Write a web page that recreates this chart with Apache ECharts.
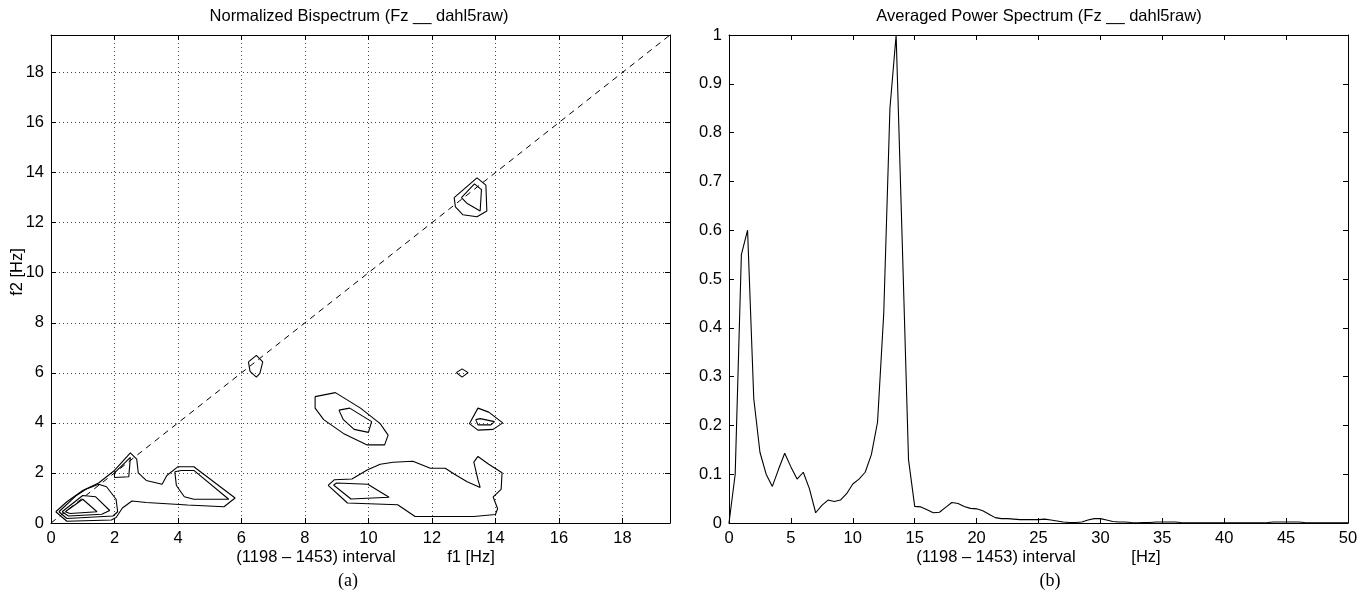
<!DOCTYPE html>
<html>
<head>
<meta charset="utf-8">
<script src="https://cdn.jsdelivr.net/npm/echarts@6/dist/echarts.min.js"></script>
<style>html,body{margin:0;padding:0;background:#fff;}#c{width:1366px;height:606px;}</style>
</head>
<body>
<div id="c"></div>
<script>
// ---------- Data: right panel (Averaged Power Spectrum) ----------
var freqStep = 0.5;
var power = [
  0.0, 0.10, 0.55, 0.60, 0.255, 0.145, 0.10, 0.075, 0.11, 0.143,
  0.115, 0.09, 0.104, 0.07, 0.021, 0.036, 0.047, 0.044, 0.047, 0.06,
  0.08, 0.09, 0.104, 0.14, 0.207, 0.43, 0.85, 1.0, 0.57, 0.13,
  0.034, 0.033, 0.027, 0.021, 0.022, 0.032, 0.042, 0.040, 0.034, 0.030,
  0.029, 0.025, 0.018, 0.011, 0.009, 0.009, 0.008, 0.007, 0.007, 0.007,
  0.007, 0.008, 0.006, 0.004, 0.002, 0.001, 0.001, 0.002, 0.006, 0.009,
  0.009, 0.006, 0.003, 0.002, 0.002, 0.001, 0.0005, 0.001, 0.001, 0.002,
  0.002, 0.002, 0.002, 0.001, 0.0005, 0.0005, 0.0005, 0.0005, 0.0005, 0.0005,
  0.0005, 0.0005, 0.0005, 0.0005, 0.0005, 0.0005, 0.0005, 0.001, 0.002, 0.002,
  0.002, 0.002, 0.002, 0.001, 0.0005, 0.0005, 0.0005, 0.0005, 0.0005, 0.0005,
  0.0005
];
var specXTicks = [0, 5, 10, 15, 20, 25, 30, 35, 40, 45, 50];
var specYTicks = [0, 0.1, 0.2, 0.3, 0.4, 0.5, 0.6, 0.7, 0.8, 0.9, 1];

// ---------- Data: left panel (Normalized Bispectrum contours) ----------
var bispMax = 19.5;
var bispTicks = [0, 2, 4, 6, 8, 10, 12, 14, 16, 18];
var diagonal = [[0, 0], [19.5, 19.5]];

var cLowOuter = [[0.15,0.45],[0.5,0.85],[1.0,1.3],[1.5,1.6],[2.0,2.1],[2.5,2.8],[2.7,2.55],[2.75,2.0],[3.0,1.7],[3.5,1.55],[3.65,1.9],[4.0,2.25],[4.5,2.25],[5.8,1.0],[5.45,0.65],[4.3,0.72],[3.0,0.82],[2.55,0.88],[2.25,0.6],[2.05,0.22],[1.9,0.12],[0.5,0.07],[0.15,0.45]];
var cLow2 = [[0.25,0.45],[0.8,1.1],[1.1,1.35],[1.5,1.55],[1.75,1.45],[2.05,0.95],[2.1,0.45],[1.95,0.28],[0.5,0.18],[0.25,0.45]];
var cLow3 = [[0.35,0.45],[1.0,1.1],[1.4,1.05],[1.85,0.5],[1.6,0.35],[0.55,0.28],[0.35,0.45]];
var cLow4 = [[0.45,0.45],[1.0,0.95],[1.45,0.45],[0.6,0.38],[0.45,0.45]];
var cSmall22 = [[2.0,2.0],[2.5,2.62],[2.45,1.85],[2.0,1.82],[2.0,2.0]];
var cBlob5 = [[3.9,2.05],[4.1,2.1],[4.5,2.1],[5.6,0.95],[4.5,0.95],[4.2,1.05],[3.95,1.5],[3.9,2.05]];
var cDiag6 = [[6.22,6.44],[6.47,6.7],[6.67,6.44],[6.58,5.98],[6.47,5.83],[6.27,6.06],[6.22,6.44]];
var cDot13 = [[12.77,6.01],[12.95,6.16],[13.14,6.01],[12.95,5.83],[12.77,6.01]];
var cMidOuter = [[8.32,5.05],[8.96,5.21],[9.75,4.59],[10.37,3.97],[10.62,3.51],[10.51,3.12],[9.96,3.12],[9.21,3.58],[8.59,4.13],[8.32,4.59],[8.32,5.05]];
var cMidInner = [[9.07,4.51],[9.41,4.59],[10.1,4.05],[10.0,3.62],[9.55,3.74],[9.21,4.13],[9.07,4.51]];
var cR4Outer = [[13.18,3.97],[13.45,4.59],[13.79,4.43],[14.23,4.0],[13.93,3.74],[13.45,3.71],[13.18,3.97]];
var cR4Inner = [[13.38,4.13],[13.52,4.17],[13.97,4.05],[13.86,3.92],[13.45,3.92],[13.38,4.13]];
var cTopOuter = [[12.7,13.0],[13.42,13.79],[13.7,13.5],[13.73,12.47],[13.42,12.24],[12.97,12.32],[12.74,12.63],[12.7,13.0]];
var cTopInner = [[12.93,13.0],[13.34,13.55],[13.56,13.32],[13.52,12.47],[13.1,12.78],[12.93,13.0]];
var cBottomOuter = [[8.73,1.5],[8.93,1.73],[9.48,1.76],[9.96,2.12],[10.37,2.35],[10.78,2.43],[11.4,2.47],[11.95,2.19],[12.42,2.19],[12.7,1.96],[13.11,1.65],[13.52,1.42],[13.45,1.73],[13.32,2.43],[13.45,2.66],[13.79,2.35],[14.21,2.01],[14.18,1.34],[13.93,1.04],[14.07,0.57],[14.0,0.34],[13.32,0.26],[11.47,0.26],[10.92,0.73],[9.34,0.8],[8.73,1.5]];
var cBottomInner = [[8.9,1.52],[9.0,1.6],[9.98,1.55],[10.65,1.03],[9.45,0.96],[8.9,1.52]];

var contours = [cLowOuter, cLow2, cLow3, cLow4, cSmall22, cBlob5, cDiag6, cDot13, cMidOuter, cMidInner, cR4Outer, cR4Inner, cTopOuter, cTopInner, cBottomOuter, cBottomInner];

// ---------- Build chart ----------
var FONT = "'Liberation Sans', Arial, Helvetica, sans-serif";
var SERIF = "'Liberation Serif', 'Times New Roman', serif";
var chart = echarts.init(document.getElementById('c'), null, {renderer: 'canvas'});

var specData = power.map(function (v, i) { return [i * freqStep, v]; });

var lineBlack = {color: '#000', width: 1};
var tickStyle = {show: true, inside: true, length: 5, lineStyle: {color: '#000', width: 1}};
var labelStyle = {color: '#000', fontFamily: FONT, fontSize: 16.5};

function axisBase(gridIndex, pos, min, max, interval, showLabel, showSplit, showMax, extra) {
  var a = {
    type: 'value', gridIndex: gridIndex, position: pos, min: min, max: max, interval: interval,
    axisLine: {show: true, onZero: false, lineStyle: lineBlack},
    axisTick: tickStyle,
    axisLabel: showLabel ? Object.assign({show: true, margin: 7, showMaxLabel: showMax}, labelStyle) : {show: false},
    splitLine: showSplit ? {show: true, lineStyle: {color: '#444', width: 1, type: [1, 3]}} : {show: false}
  };
  if (extra) Object.assign(a.axisLabel, extra);
  return a;
}

var series = [];
contours.forEach(function (c) {
  series.push({
    type: 'line', xAxisIndex: 0, yAxisIndex: 0, data: c, showSymbol: false, symbol: 'none',
    lineStyle: {color: '#000', width: 1.1}, silent: true, animation: false, z: 3
  });
});
series.push({
  type: 'line', xAxisIndex: 0, yAxisIndex: 0, data: diagonal, showSymbol: false, symbol: 'none',
  lineStyle: {color: '#000', width: 1, type: [6, 5]}, silent: true, animation: false, z: 2
});
series.push({
  type: 'line', xAxisIndex: 2, yAxisIndex: 2, data: specData, showSymbol: false, symbol: 'none',
  lineStyle: {color: '#000', width: 1.1}, silent: true, animation: false, z: 3
});

function texts() {
  var t = function (x, y, s, size, fam, rot) {
    return {type: 'text', x: x, y: y, rotation: rot || 0,
      style: {text: s, fill: '#000', font: size + 'px ' + fam, textAlign: 'center', textVerticalAlign: 'middle'}};
  };
  return [
    t(359, 16, 'Normalized Bispectrum (Fz __ dahl5raw)', 16.5, FONT),
    t(1039, 16, 'Averaged Power Spectrum (Fz __ dahl5raw)', 16.5, FONT),
    t(316, 557, '(1198 \u2013 1453) interval', 16.5, FONT),
    t(471, 557, 'f1 [Hz]', 16.5, FONT),
    t(996, 557, '(1198 \u2013 1453) interval', 16.5, FONT),
    t(1146, 557, '[Hz]', 16.5, FONT),
    t(17, 272, 'f2 [Hz]', 16.5, FONT, Math.PI / 2),
    t(348, 581, '(a)', 18, SERIF),
    t(1050, 581, '(b)', 18, SERIF)
  ];
}

var option = {
  backgroundColor: '#fff',
  animation: false,
  grid: [
    {left: 51, right: 696, top: 35, bottom: 83, containLabel: false},
    {left: 729, right: 18, top: 35, bottom: 83, containLabel: false}
  ],
  xAxis: [
    axisBase(0, 'bottom', 0, bispMax, 2, true, true, false),
    axisBase(0, 'top', 0, bispMax, 2, false, false, false),
    axisBase(1, 'bottom', 0, 50, 5, true, false, true),
    axisBase(1, 'top', 0, 50, 5, false, false, false)
  ],
  yAxis: [
    axisBase(0, 'left', 0, bispMax, 2, true, true, false),
    axisBase(0, 'right', 0, bispMax, 2, false, false, false),
    axisBase(1, 'left', 0, 1, 0.1, true, false, true, {formatter: function (v) { return v === 0 ? '0' : (Math.abs(v - 1) < 1e-9 ? '1' : String(Math.round(v * 10) / 10)); }}),
    axisBase(1, 'right', 0, 1, 0.1, false, false, false)
  ],
  series: series,
  graphic: texts()
};
chart.setOption(option);
</script>
</body>
</html>
